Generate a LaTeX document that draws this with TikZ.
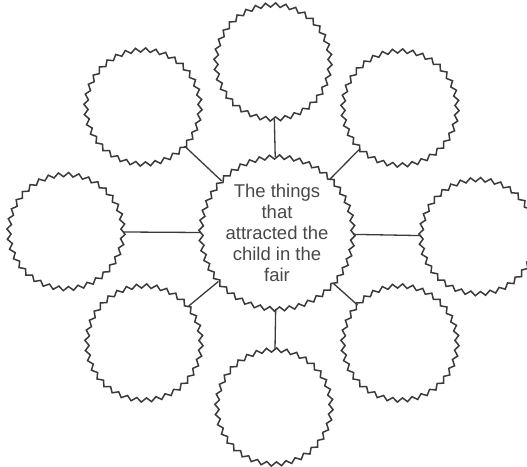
\documentclass[tikz,border=0pt]{standalone}
\usepackage{fontspec}
\setmainfont{Liberation Sans}
\usetikzlibrary{decorations.pathmorphing}
\definecolor{ink}{HTML}{3A3A3A}
\definecolor{txt}{HTML}{484848}
\tikzset{
  zz/.style={circle, draw=ink, line width=1.5pt, inner sep=0pt, outer sep=0pt,
    minimum size=#1, decorate,
    decoration={zigzag, segment length=9.948pt, amplitude=2.1pt}},
  small/.style={zz=114pt},
  link/.style={draw=ink, line width=1.3pt}
}
\begin{document}
\begin{tikzpicture}[x=1pt,y=-1pt]
\useasboundingbox (0,0) rectangle (527,466);
\node[zz=152pt, align=center, text=txt, font=\fontsize{18.5}{21}\selectfont] (c) at (277,233)
  {The things\\that\\attracted the\\child in the\\fair};
\node[small] (t)  at (273,62) {};
\node[small] (tl) at (143,107) {};
\node[small] (tr) at (400,108) {};
\node[small] (l)  at (66,231.6) {};
\node[small] (r)  at (478,236.6) {};
\node[small] (bl) at (144,343) {};
\node[small] (br) at (400,343) {};
\node[small] (b)  at (274,407) {};
\foreach \n in {t,tl,tr,l,r,bl,br,b}
  \draw[link] (\n) -- (c);
\end{tikzpicture}
\end{document}
